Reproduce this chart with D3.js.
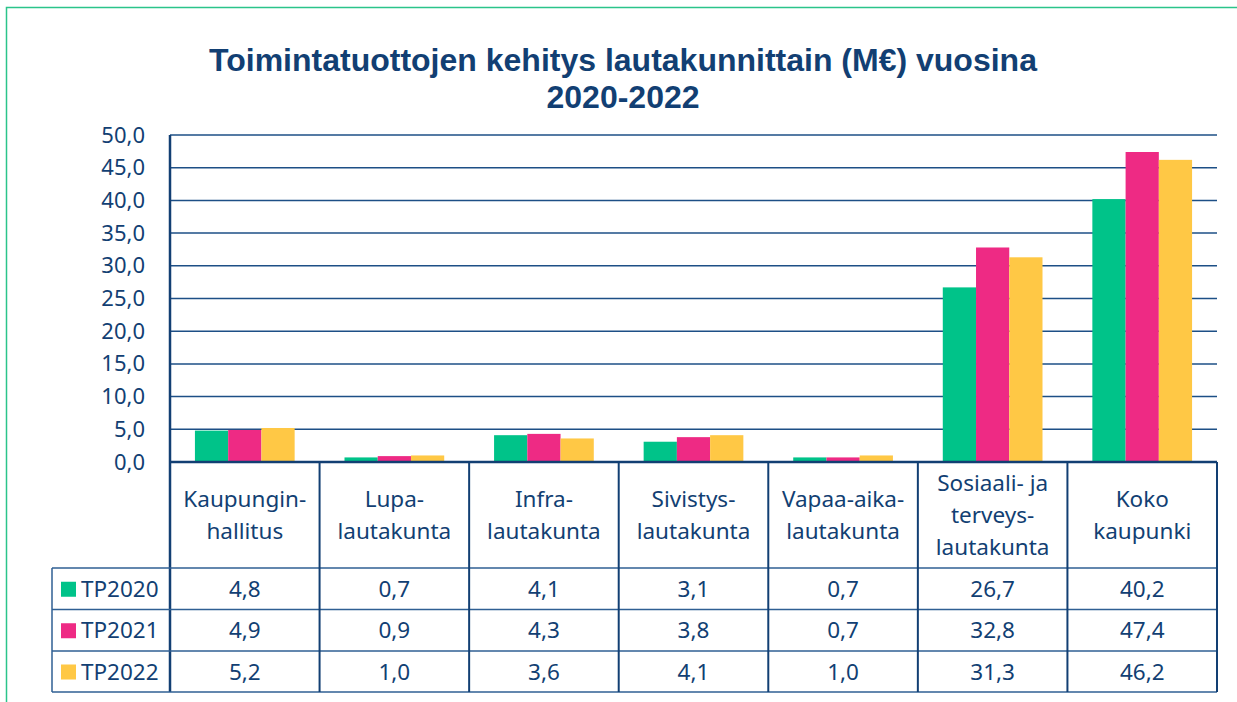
<!DOCTYPE html>
<html>
<head>
<meta charset="utf-8">
<script src="https://cdn.jsdelivr.net/npm/d3@7"></script>
<style>
  body { margin: 0; background: #fff; }
  svg { display: block; }
</style>
</head>
<body>
<svg width="1237" height="702"></svg>
<script>
// data
const categories = [
    ['Kaupungin-', 'hallitus'],
    ['Lupa-', 'lautakunta'],
    ['Infra-', 'lautakunta'],
    ['Sivistys-', 'lautakunta'],
    ['Vapaa-aika-', 'lautakunta'],
    ['Sosiaali- ja', 'terveys-', 'lautakunta'],
    ['Koko', 'kaupunki']
]
const seriesNames = ['TP2020', 'TP2021', 'TP2022']
const tp2020 = [4.8, 0.7, 4.1, 3.1, 0.7, 26.7, 40.2]
const tp2021 = [4.9, 0.9, 4.3, 3.8, 0.7, 32.8, 47.4]
const tp2022 = [5.2, 1.0, 3.6, 4.1, 1.0, 31.3, 46.2]
const seriesColors = ['#00c389', '#ee2a84', '#ffc845']
const yTicks = [0, 5, 10, 15, 20, 25, 30, 35, 40, 45, 50]
const titleLines = ['Toimintatuottojen kehitys lautakunnittain (M€) vuosina', '2020-2022']

const series = [tp2020, tp2021, tp2022]
const navy = '#123f73'
const font = "'Noto Sans', sans-serif"
const fmt = v => v.toFixed(1).replace('.', ',')

const svg = d3.select('svg')

// outer green frame (only top and left visible)
svg.append('path')
    .attr('d', 'M6.5,702 L6.5,7.5 L1237,7.5')
    .style('fill', 'none')
    .style('stroke', '#2bc48a')
    .style('stroke-width', 1.5)

// title
svg.append('g').selectAll('text')
    .data(titleLines)
    .join('text')
    .attr('x', 623)
    .attr('y', (d, i) => 71 + i * 37)
    .attr('text-anchor', 'middle')
    .style('font-family', "'Liberation Sans', Arial, sans-serif")
    .style('font-weight', 'bold')
    .style('font-size', '32px')
    .style('fill', navy)
    .text(d => d)

const plotLeft = 170, plotRight = 1217, plotTop = 135, zeroY = 462

const x = d3.scaleBand()
    .domain(d3.range(categories.length))
    .range([plotLeft, plotRight])
    .paddingInner(0)
    .paddingOuter(0)

const inner = d3.scaleBand()
    .domain(d3.range(series.length))
    .range([0, x.bandwidth()])
    .paddingOuter(0.75)
    .paddingInner(0)

const y = d3.scaleLinear().domain([0, 50]).range([zeroY, plotTop])

// gridlines
svg.append('g').selectAll('line')
    .data(yTicks.slice(1))
    .join('line')
    .attr('x1', plotLeft)
    .attr('x2', plotRight)
    .attr('y1', d => y(d))
    .attr('y2', d => y(d))
    .style('stroke', '#1d4f86')
    .style('stroke-width', 1.5)

// y axis tick labels
const yAxis = d3.axisLeft(y)
    .tickValues(yTicks)
    .tickSize(0)
    .tickPadding(25)
    .tickFormat(fmt)
const yg = svg.append('g')
    .attr('transform', `translate(${plotLeft},0)`)
    .call(yAxis)
yg.select('.domain').remove()
yg.selectAll('text')
    .style('font-family', font)
    .style('font-size', '22px')
    .style('fill', navy)

// bars
series.forEach((vals, s) => {
    svg.append('g').selectAll('rect')
        .data(vals)
        .join('rect')
        .attr('x', (d, i) => x(i) + inner(s))
        .attr('y', d => y(d))
        .attr('width', inner.bandwidth())
        .attr('height', d => zeroY - y(d))
        .style('fill', seriesColors[s])
})

// y axis line
svg.append('line')
    .attr('x1', plotLeft).attr('x2', plotLeft)
    .attr('y1', plotTop).attr('y2', 692)
    .style('stroke', navy)
    .style('stroke-width', 2.5)

// data table
const headBottom = 568
const rowY = [568, 609.5, 651, 692]
const legendLeft = 52
const table = svg.append('g')

// horizontal lines
table.append('line')
    .attr('x1', plotLeft).attr('x2', plotRight)
    .attr('y1', zeroY).attr('y2', zeroY)
    .style('stroke', navy).style('stroke-width', 2.5)
table.selectAll('.hline')
    .data(rowY)
    .join('line')
    .attr('class', 'hline')
    .attr('x1', legendLeft).attr('x2', plotRight)
    .attr('y1', d => d).attr('y2', d => d)
    .style('stroke', '#2f5f93').style('stroke-width', 1.5)

// vertical lines
table.selectAll('.vline')
    .data(d3.range(1, categories.length + 1))
    .join('line')
    .attr('class', 'vline')
    .attr('x1', i => x(i - 1) + x.bandwidth())
    .attr('x2', i => x(i - 1) + x.bandwidth())
    .attr('y1', zeroY).attr('y2', 692)
    .style('stroke', navy).style('stroke-width', 2)
table.append('line')
    .attr('x1', legendLeft).attr('x2', legendLeft)
    .attr('y1', headBottom).attr('y2', 692)
    .style('stroke', '#2f5f93').style('stroke-width', 1.5)

// category headers
categories.forEach((lines, i) => {
    const cx = x(i) + x.bandwidth() / 2
    const lh = 32
    const startY = (zeroY + headBottom) / 2 - (lines.length - 1) * lh / 2 + 8
    table.append('g').selectAll('text')
        .data(lines)
        .join('text')
        .attr('x', cx)
        .attr('y', (d, k) => startY + k * lh)
        .attr('text-anchor', 'middle')
        .style('font-family', font)
        .style('font-size', '22.5px')
        .style('fill', navy)
        .text(d => d)
})

// series rows
series.forEach((vals, s) => {
    const cy = (rowY[s] + rowY[s + 1]) / 2
    table.append('rect')
        .attr('x', 61)
        .attr('y', cy - 7)
        .attr('width', 15)
        .attr('height', 15)
        .style('fill', seriesColors[s])
    table.append('text')
        .attr('x', 81)
        .attr('y', cy + 8)
        .style('font-family', font)
        .style('font-size', '22.5px')
        .style('fill', navy)
        .text(seriesNames[s])
    table.append('g').selectAll('text')
        .data(vals)
        .join('text')
        .attr('x', (d, i) => x(i) + x.bandwidth() / 2)
        .attr('y', cy + 8)
        .attr('text-anchor', 'middle')
        .style('font-family', font)
        .style('font-size', '22.5px')
        .style('fill', navy)
        .text(fmt)
})
</script>
</body>
</html>
